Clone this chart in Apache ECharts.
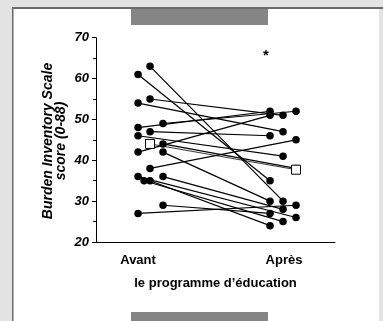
<!DOCTYPE html>
<html><head><meta charset="utf-8">
<script src="https://cdn.jsdelivr.net/npm/echarts@6/dist/echarts.min.js"></script>
<style>html,body{margin:0;padding:0;background:#e3e3e3}#c{width:383px;height:321px}</style>
</head><body><div id="c"></div>
<script>
// Data
const phases = ['Avant', 'Après'];
const before    = [61, 63, 54, 55, 48, 47, 49, 46, 44, 42, 42, 38, 36, 35, 35, 36, 29, 27];
const beforeCol = [ 0,  2,  0,  2,  0,  2,  3,  0,  3,  0,  3,  2,  0,  1,  2,  3,  3,  0];
const after     = [35, 30, 47, 51, 52, 46, 52, 41, 38, 51, 30, 45, 26, 25, 24, 28, 27, 29];
const afterCol  = [ 0,  1,  1,  1,  0,  0,  2,  1,  2,  0,  0,  2,  2,  1,  0,  1,  0,  2];
const meanBefore = 44;
const meanAfter = 37.7;
const yTicks = [20, 30, 40, 50, 60, 70];
const yTitle = 'Burden Inventory Scale\nscore (0-88)';

// jitter column offsets (layout)
const colBefore = [1.0, 1.041, 1.082, 1.171];
const colAfter = [1.904, 1.993, 2.082];

const series = [];
before.forEach((b, i) => {
  series.push({
    type: 'line', symbol: 'circle', symbolSize: 7.5, silent: true,
    lineStyle: {color: '#000', width: 1.2}, itemStyle: {color: '#000'},
    z: 3,
    data: [[colBefore[beforeCol[i]], b], [colAfter[afterCol[i]], after[i]]]
  });
});
series.push({
  type: 'line', symbol: 'rect', symbolSize: 9, z: 5,
  lineStyle: {color: '#000', width: 0.8},
  itemStyle: {color: '#fff', borderColor: '#000', borderWidth: 1},
  data: [[colBefore[2], meanBefore], [colAfter[2], meanAfter]]
});

const font = 'Liberation Sans, Arial, sans-serif';
const chart = echarts.init(document.getElementById('c'));
chart.setOption({
  animation: false,
  backgroundColor: '#e3e3e3',
  graphic: [
    {type: 'rect', z: -10, shape: {x: 13, y: 8, width: 366, height: 313}, style: {fill: '#fff'}},
    {type: 'rect', z: -9, shape: {x: 12, y: 7, width: 371, height: 2}, style: {fill: '#6a6a6a'}},
    {type: 'rect', z: -9, shape: {x: 12, y: 7, width: 1.5, height: 314}, style: {fill: '#6a6a6a'}},
    {type: 'rect', z: -9, shape: {x: 131, y: 9, width: 137, height: 16}, style: {fill: '#858585'}},
    {type: 'rect', z: -9, shape: {x: 131, y: 312, width: 137, height: 9}, style: {fill: '#858585'}},
    {type: 'text', z: 10, x: 266, y: 56, style: {text: '*', font: 'bold 15px ' + font, fill: '#000', textAlign: 'center', textVerticalAlign: 'middle'}},
    {type: 'text', z: 10, x: 55, y: 141, rotation: Math.PI / 2,
     style: {text: yTitle, font: 'italic bold 14px ' + font, lineHeight: 13, fill: '#000', align: 'center', verticalAlign: 'middle'}}
  ],
  grid: {left: 96, right: 48, top: 37.7, bottom: 79, containLabel: false},
  xAxis: {
    type: 'value', min: 0.712, max: 2.349,
    axisLine: {show: true, lineStyle: {color: '#000', width: 1}},
    axisTick: {show: false}, splitLine: {show: false},
    axisLabel: {
      customValues: [1, 2], margin: 12,
      formatter: v => phases[Math.round(v) - 1],
      color: '#000', fontWeight: 'bold', fontSize: 13, fontFamily: font
    },
    name: 'le programme d\u2019éducation', nameLocation: 'middle', nameGap: 35,
    nameTextStyle: {color: '#000', fontWeight: 'bold', fontSize: 13, fontFamily: font}
  },
  yAxis: {
    type: 'value', min: 20, max: 70, interval: 10,
    axisLine: {show: true, lineStyle: {color: '#000', width: 1}},
    axisTick: {show: true, length: 4, lineStyle: {color: '#000'}},
    minorTick: {show: true, splitNumber: 2, length: 3, lineStyle: {color: '#000'}},
    splitLine: {show: false},
    axisLabel: {
      margin: 7, color: '#000', fontWeight: 'bold', fontStyle: 'italic', fontSize: 13, fontFamily: font,
      customValues: yTicks
    }
  },
  series: series
});
</script></body></html>
